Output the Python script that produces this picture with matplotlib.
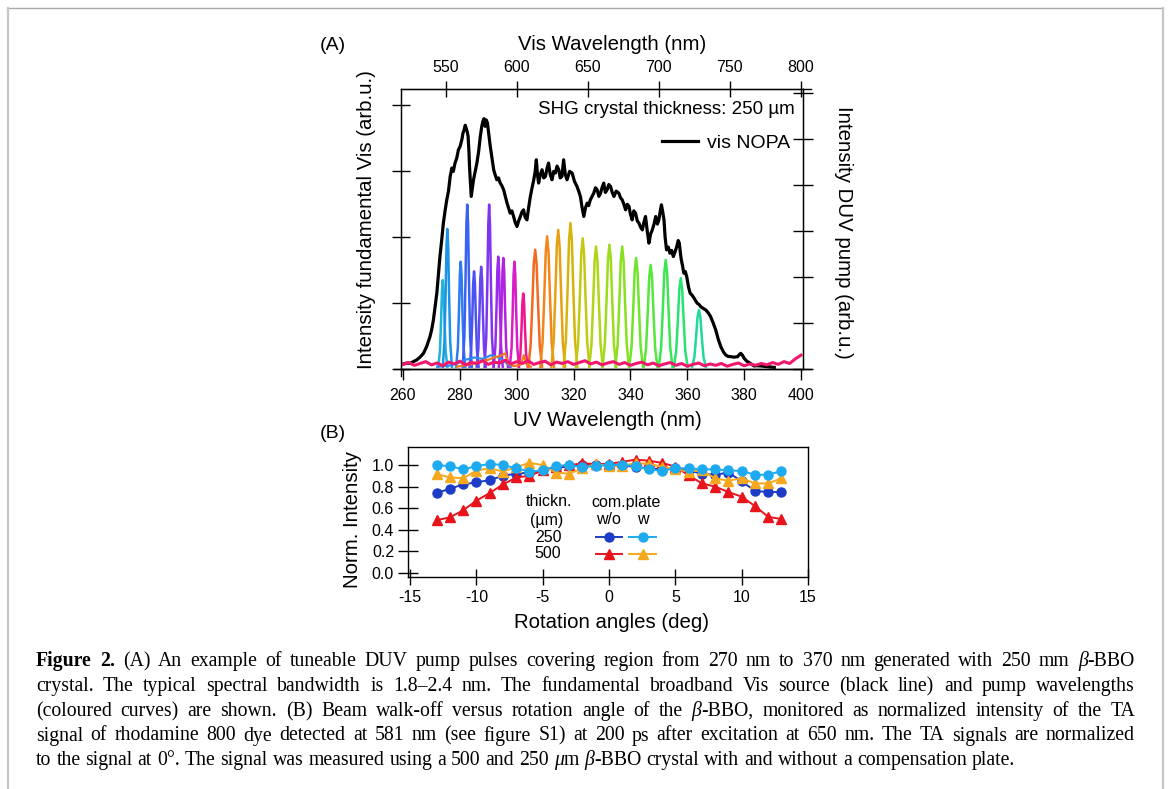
import numpy as np
import matplotlib
matplotlib.use('Agg')
import matplotlib.pyplot as plt
from matplotlib.lines import Line2D

W, H = 1170, 789
plt.rcParams['font.family'] = ['Liberation Sans', 'DejaVu Sans']

# ---------------- data: panel A ----------------
vis_uv = [260.1, 261.3, 262.5, 263.6, 264.8, 266.0, 267.2, 268.3, 269.5, 270.1,
          270.7, 271.3, 271.9, 272.5, 273.0, 273.6, 274.2, 274.8, 275.4, 276.0,
          276.6, 277.2, 277.7, 278.3, 278.9, 279.5, 280.1, 280.7, 281.1, 281.5,
          281.9, 282.2, 282.6, 282.9, 283.2, 283.4, 283.7, 284.0, 284.4, 284.8,
          285.4, 286.0, 286.6, 287.2, 287.7, 288.1, 288.5, 288.9, 289.3, 289.7,
          290.2, 290.7, 291.3, 291.9, 292.4, 293.0, 293.6, 294.2, 294.8, 295.4,
          296.0, 296.6, 297.1, 297.7, 298.3, 298.9, 299.5, 300.1, 300.7, 301.3,
          301.8, 302.4, 303.0, 303.6, 304.2, 304.8, 305.4, 306.0, 306.5, 306.9,
          307.3, 307.7, 308.3, 308.9, 309.5, 310.1, 310.7, 311.2, 311.8, 312.4,
          313.0, 313.6, 314.2, 314.8, 315.3, 315.9, 316.5, 317.1, 317.7, 318.6,
          319.5, 320.3, 321.2, 321.8, 322.4, 323.0, 323.6, 324.2, 324.8, 325.3,
          325.9, 326.5, 327.1, 327.7, 328.3, 328.9, 329.5, 330.0, 330.6, 331.2,
          331.8, 332.4, 333.0, 333.6, 334.2, 335.0, 335.9, 336.5, 337.1, 337.7,
          338.3, 338.9, 339.5, 340.0, 340.6, 341.2, 341.8, 342.4, 343.0, 343.6,
          344.2, 344.7, 345.3, 345.9, 346.5, 347.1, 347.7, 348.3, 348.9, 349.5,
          350.0, 350.5, 350.9, 351.3, 351.8, 352.2, 352.7, 353.3, 353.9, 354.5,
          355.1, 355.7, 356.3, 356.8, 357.2, 357.6, 357.9, 358.4, 358.8, 359.3,
          359.8, 360.4, 361.0, 361.7, 362.4, 363.0, 363.5, 364.1, 364.7, 365.6,
          366.5, 367.4, 368.2, 369.1, 370.0, 370.9, 371.8, 372.7, 373.5, 374.4,
          375.3, 376.5, 377.7, 378.3, 378.8, 379.4, 380.0, 380.9, 381.8, 382.7,
          383.5, 384.7, 385.9, 387.0, 388.2, 389.4, 390.6]
vis_int = [0.076, 0.090, 0.086, 0.110, 0.137, 0.180, 0.238, 0.339, 0.491, 0.600,
           0.745, 0.950, 1.150, 1.450, 1.707, 1.950, 2.214, 2.400, 2.568, 2.700,
           2.923, 3.050, 3.000, 3.126, 3.200, 3.328, 3.380, 3.480, 3.580, 3.632,
           3.700, 3.658, 3.600, 3.531, 3.300, 3.075, 2.850, 2.619, 2.750, 2.872,
           3.000, 3.126, 3.300, 3.531, 3.680, 3.759, 3.800, 3.683, 3.780, 3.734,
           3.550, 3.379, 3.200, 3.024, 2.950, 2.872, 2.900, 2.822, 2.780, 2.720,
           2.620, 2.518, 2.450, 2.366, 2.400, 2.315, 2.220, 2.163, 2.250, 2.315,
           2.380, 2.416, 2.300, 2.264, 2.450, 2.619, 2.750, 2.872, 3.000, 3.176,
           2.950, 2.822, 2.950, 3.024, 2.900, 2.923, 3.050, 3.126, 2.950, 2.872,
           3.000, 2.974, 3.080, 3.024, 2.900, 2.923, 3.176, 2.950, 2.872, 3.000,
           2.974, 2.850, 2.771, 2.700, 2.619, 2.450, 2.315, 2.450, 2.518, 2.480,
           2.568, 2.620, 2.670, 2.750, 2.720, 2.620, 2.670, 2.750, 2.822, 2.680,
           2.720, 2.800, 2.771, 2.680, 2.619, 2.700, 2.670, 2.600, 2.568, 2.500,
           2.416, 2.500, 2.467, 2.350, 2.264, 2.400, 2.366, 2.250, 2.214, 2.150,
           2.112, 2.220, 2.315, 2.100, 1.910, 2.050, 2.112, 2.200, 2.315, 2.200,
           2.264, 2.400, 2.492, 2.400, 2.264, 2.000, 1.809, 1.850, 1.758, 1.800,
           1.707, 1.780, 1.859, 1.950, 1.910, 1.750, 1.657, 1.550, 1.454, 1.480,
           1.403, 1.250, 1.150, 1.120, 1.074, 1.030, 0.998, 0.980, 0.947, 0.920,
           0.897, 0.850, 0.795, 0.700, 0.593, 0.450, 0.339, 0.260, 0.213, 0.190,
           0.187, 0.180, 0.187, 0.220, 0.238, 0.210, 0.162, 0.120, 0.096, 0.070,
           0.046, 0.050, 0.046, 0.040, 0.035, 0.030, 0.025]

# DUV pump pulses: (colour, wavelengths, intensities)
pump_pulses = [
    ('#22b4d6', [272.4, 273.0, 273.4, 273.7, 274.0, 274.3, 274.6, 275.0, 275.6], [0.05, 0.39, 1.06, 1.70, 1.93, 1.70, 1.06, 0.39, 0.05]),
    ('#1e94e8', [274.0, 274.6, 275.0, 275.3, 275.6, 275.9, 276.2, 276.6, 277.2], [0.05, 0.61, 1.67, 2.68, 3.04, 2.68, 1.67, 0.61, 0.05]),
    ('#2f7cf0', [278.7, 279.3, 279.7, 280.0, 280.3, 280.6, 280.9, 281.3, 281.9], [0.05, 0.47, 1.28, 2.05, 2.33, 2.05, 1.28, 0.47, 0.05]),
    ('#3a62f2', [281.0, 281.6, 282.0, 282.3, 282.6, 282.9, 283.2, 283.6, 284.2], [0.05, 0.71, 1.96, 3.14, 3.57, 3.14, 1.96, 0.71, 0.05]),
    ('#4a52f2', [283.4, 284.0, 284.4, 284.7, 285.0, 285.3, 285.6, 286.0, 286.6], [0.05, 0.42, 1.17, 1.87, 2.12, 1.87, 1.17, 0.42, 0.05]),
    ('#6446f2', [285.9, 286.5, 286.9, 287.2, 287.5, 287.8, 288.1, 288.5, 289.1], [0.05, 0.44, 1.22, 1.95, 2.22, 1.95, 1.22, 0.44, 0.05]),
    ('#8034f0', [288.7, 289.3, 289.7, 290.0, 290.3, 290.6, 290.9, 291.3, 291.9], [0.05, 0.71, 1.96, 3.14, 3.57, 3.14, 1.96, 0.71, 0.05]),
    ('#9a2aec', [291.9, 292.5, 292.9, 293.2, 293.5, 293.8, 294.1, 294.5, 295.1], [0.05, 0.49, 1.34, 2.15, 2.44, 2.15, 1.34, 0.49, 0.05]),
    ('#b322e0', [293.7, 294.3, 294.7, 295.0, 295.3, 295.6, 295.9, 296.3, 296.9], [0.05, 0.48, 1.33, 2.12, 2.41, 2.12, 1.33, 0.48, 0.05]),
    ('#d81ec6', [297.6, 298.2, 298.6, 298.9, 299.2, 299.5, 299.8, 300.2, 300.8], [0.05, 0.47, 1.28, 2.05, 2.33, 2.05, 1.28, 0.47, 0.05]),
    ('#f0168e', [300.7, 301.3, 301.7, 302.0, 302.3, 302.6, 302.9, 303.3, 303.9], [0.05, 0.33, 0.90, 1.44, 1.64, 1.44, 0.90, 0.33, 0.05]),
    ('#f26a1e', [304.1, 304.9, 305.5, 306.0, 306.5, 307.0, 307.5, 308.1, 308.9], [0.05, 0.52, 1.42, 2.28, 2.59, 2.28, 1.42, 0.52, 0.05]),
    ('#f2861a', [308.3, 309.1, 309.7, 310.2, 310.7, 311.2, 311.7, 312.3, 313.1], [0.05, 0.58, 1.58, 2.53, 2.88, 2.53, 1.58, 0.58, 0.05]),
    ('#e6a012', [312.2, 313.0, 313.6, 314.1, 314.6, 315.1, 315.6, 316.2, 317.0], [0.05, 0.60, 1.66, 2.66, 3.02, 2.66, 1.66, 0.60, 0.05]),
    ('#d6b40e', [316.5, 317.3, 317.9, 318.4, 318.9, 319.4, 319.9, 320.5, 321.3], [0.05, 0.63, 1.74, 2.79, 3.17, 2.79, 1.74, 0.63, 0.05]),
    ('#c4c814', [320.8, 321.6, 322.2, 322.7, 323.2, 323.7, 324.2, 324.8, 325.6], [0.05, 0.57, 1.56, 2.50, 2.84, 2.50, 1.56, 0.57, 0.05]),
    ('#b0d416', [325.5, 326.3, 326.9, 327.4, 327.9, 328.4, 328.9, 329.5, 330.3], [0.05, 0.53, 1.46, 2.34, 2.66, 2.34, 1.46, 0.53, 0.05]),
    ('#9cdc1a', [330.2, 331.0, 331.6, 332.1, 332.6, 333.1, 333.6, 334.2, 335.0], [0.05, 0.54, 1.49, 2.38, 2.70, 2.38, 1.49, 0.54, 0.05]),
    ('#88e020', [334.7, 335.5, 336.1, 336.6, 337.1, 337.6, 338.1, 338.7, 339.5], [0.05, 0.53, 1.46, 2.34, 2.66, 2.34, 1.46, 0.53, 0.05]),
    ('#70e42a', [339.6, 340.4, 341.0, 341.5, 342.0, 342.5, 343.0, 343.6, 344.4], [0.05, 0.48, 1.33, 2.12, 2.41, 2.12, 1.33, 0.48, 0.05]),
    ('#56e63c', [344.7, 345.5, 346.1, 346.6, 347.1, 347.6, 348.1, 348.7, 349.5], [0.05, 0.45, 1.24, 1.99, 2.26, 1.99, 1.24, 0.45, 0.05]),
    ('#3ce652', [350.0, 350.8, 351.4, 351.9, 352.4, 352.9, 353.4, 354.0, 354.8], [0.05, 0.47, 1.30, 2.09, 2.37, 2.09, 1.30, 0.47, 0.05]),
    ('#28e272', [355.3, 356.1, 356.7, 357.2, 357.7, 358.2, 358.7, 359.3, 360.1], [0.05, 0.39, 1.08, 1.73, 1.97, 1.73, 1.08, 0.39, 0.05]),
    ('#22d89c', [361.7, 362.5, 363.1, 363.6, 364.1, 364.6, 365.1, 365.7, 366.5], [0.05, 0.26, 0.70, 1.13, 1.28, 1.13, 0.70, 0.26, 0.05]),
]

# low-level residual traces near the baseline
blue_tail_uv = [272.0, 276.0, 279.0, 282.0, 285.0, 288.0, 291.0, 294.0, 296.0, 298.0]
blue_tail_int = [0.05, 0.07, 0.12, 0.20, 0.25, 0.22, 0.30, 0.24, 0.15, 0.05]
orange_tail_uv = [279.0, 282.0, 285.0, 288.0, 290.0, 292.0, 294.0, 296.0, 297.0, 299.0, 301.5, 302.5, 303.5, 305.0]
orange_tail_int = [0.05, 0.08, 0.12, 0.18, 0.20, 0.25, 0.28, 0.34, 0.12, 0.06, 0.10, 0.30, 0.10, 0.05]

pink_base_uv = np.arange(260, 401, 2)
pink_base_int = [0.10, 0.14, 0.08, 0.12, 0.16, 0.09, 0.13, 0.07, 0.15, 0.11,
                 0.17, 0.09, 0.14, 0.12, 0.18, 0.10, 0.15, 0.13, 0.19, 0.11,
                 0.16, 0.12, 0.18, 0.10, 0.14, 0.17, 0.09, 0.15, 0.12, 0.16,
                 0.10, 0.14, 0.18, 0.11, 0.15, 0.09, 0.13, 0.16, 0.10, 0.14,
                 0.08, 0.12, 0.15, 0.09, 0.13, 0.07, 0.11, 0.14, 0.08, 0.12,
                 0.06, 0.10, 0.13, 0.07, 0.11, 0.08, 0.12, 0.06, 0.10, 0.13,
                 0.07, 0.11, 0.08, 0.12, 0.09, 0.14, 0.10, 0.16, 0.12, 0.22, 0.30]

uv_ticks = [260, 280, 300, 320, 340, 360, 380, 400]
vis_ticks = [550, 600, 650, 700, 750, 800]

# ---------------- data: panel B ----------------
angles = list(range(-13, 14))
i250_wo = [0.74, 0.78, 0.82, 0.84, 0.86, 0.90, 0.92, 0.93, 0.95, 0.97, 0.99, 1.00, 1.00, 1.00,
           1.00, 0.98, 0.97, 0.96, 0.97, 0.95, 0.92, 0.91, 0.93, 0.85, 0.76, 0.75, 0.75]
i250_w = [1.00, 0.99, 0.96, 0.99, 1.01, 1.00, 0.97, 0.94, 0.95, 0.99, 1.00, 0.98, 0.99, 1.00,
          1.00, 0.99, 0.96, 0.945, 0.97, 0.97, 0.96, 0.96, 0.95, 0.945, 0.91, 0.91, 0.945]
i500_wo = [0.49, 0.515, 0.58, 0.67, 0.74, 0.82, 0.885, 0.90, 0.95, 0.985, 1.00, 1.015, 1.01, 1.01,
           1.03, 1.05, 1.04, 1.02, 0.985, 0.905, 0.83, 0.80, 0.75, 0.707, 0.62, 0.52, 0.50]
i500_w = [0.917, 0.886, 0.877, 0.948, 0.97, 0.94, 0.98, 1.02, 1.00, 0.93, 0.92, 0.97, 1.01, 0.99,
          0.99, 1.02, 1.01, 0.985, 0.96, 0.94, 0.95, 0.877, 0.855, 0.877, 0.83, 0.83, 0.877]
angle_ticks = [-15, -10, -5, 0, 5, 10, 15]
norm_ticks = [0.0, 0.2, 0.4, 0.6, 0.8, 1.0]

caption_lines = [
    "Figure 2. (A) An example of tuneable DUV pump pulses covering region from 270 nm to 370 nm generated with 250 mm β-BBO",
    "crystal. The typical spectral bandwidth is 1.8–2.4 nm. The fundamental broadband Vis source (black line) and pump wavelengths",
    "(coloured curves) are shown. (B) Beam walk-off versus rotation angle of the β-BBO, monitored as normalized intensity of the TA",
    "signal of rhodamine 800 dye detected at 581 nm (see figure S1) at 200 ps after excitation at 650 nm. The TA signals are normalized",
    "to the signal at 0°. The signal was measured using a 500 and 250 μm β-BBO crystal with and without a compensation plate.",
]

# ---------------- figure ----------------
fig = plt.figure(figsize=(W / 100, H / 100), dpi=100)


def fx(x):
    return x / W


def fy(y):
    return 1 - y / H


def rect(l, t, r, b):
    return [fx(l), fy(b), (r - l) / W, (b - t) / H]


TF = fig.transFigure
LAB = 14.7
TCK = 11.5

# frame of the figure box
fig.add_artist(Line2D([fx(7), fx(1163)], [fy(8), fy(8)], transform=TF, color='#a8a8a8', lw=1.0))
fig.add_artist(Line2D([fx(7.5), fx(7.5)], [fy(8), fy(789)], transform=TF, color='#c6c6c6', lw=1.6))
fig.add_artist(Line2D([fx(1162.5), fx(1162.5)], [fy(8), fy(789)], transform=TF, color='#c6c6c6', lw=1.6))

# ----- panel A -----
ax1 = fig.add_axes(rect(401, 89, 803, 369))
ax1.set_xlim(259.3, 400.7)
ax1.set_ylim(0, 4.25)
ax1.plot(vis_uv, vis_int, color='black', lw=2.3, label='vis NOPA', zorder=3)
ax1.set_xticks(uv_ticks)
ax1.set_yticks(range(5))
ax1.tick_params(axis='x', direction='out', length=8, width=1, labelsize=TCK, pad=6, top=False)
ax1.tick_params(axis='y', direction='inout', length=13, width=1, labelleft=False)
for s in ax1.spines.values():
    s.set_linewidth(1.0)
ax1.set_xlabel('UV Wavelength (nm)', fontsize=LAB)
ax1.xaxis.set_label_coords(fx(607), fy(420), transform=TF)
ax1.xaxis.label.set_va('center')
ax1.set_ylabel('Intensity fundamental Vis (arb.u.)', fontsize=LAB)
ax1.yaxis.set_label_coords(fx(366), fy(220), transform=TF)
ax1.yaxis.label.set_va('center')
# Igor-style axis standoff: bottom axis line runs a bit past the frame
fig.add_artist(Line2D([fx(394), fx(811)], [fy(369), fy(369)], transform=TF, color='black', lw=1.0))
fig.add_artist(Line2D([fx(401), fx(401)], [fy(369), fy(376)], transform=TF, color='black', lw=1.0))
fig.add_artist(Line2D([fx(803), fx(811)], [fy(89), fy(89)], transform=TF, color='black', lw=1.0))

ax2 = ax1.twinx()
ax2.set_ylim(0, 6.08)
for col, xs, ys in pump_pulses:
    ax2.plot(xs, ys, color=col, lw=1.8)
ax2.plot(blue_tail_uv, blue_tail_int, color='#2f8cf0', lw=1.6)
ax2.plot(orange_tail_uv, orange_tail_int, color='#f07a20', lw=1.6)
ax2.plot(pink_base_uv, pink_base_int, color='#f0186e', lw=2.2)
ax2.set_yticks(range(7))
ax2.tick_params(axis='y', direction='inout', length=14, width=1, labelright=False)
ax2.set_ylabel('Intensity DUV pump (arb.u.)', fontsize=LAB, rotation=-90)
ax2.yaxis.set_label_coords(fx(843), fy(232), transform=TF)
ax2.yaxis.label.set_va('center')
ax2.yaxis.label.set_ha('center')

secax = ax1.secondary_xaxis('top', functions=(lambda x: 2 * x, lambda x: x / 2))
secax.set_xticks(vis_ticks)
secax.tick_params(axis='x', direction='inout', length=12, width=1, labelsize=TCK, pad=4)
secax.set_xlabel('Vis Wavelength (nm)', fontsize=LAB)
secax.xaxis.set_label_coords(fx(612), fy(45), transform=TF)
secax.xaxis.label.set_va('center')

fig.text(fx(795), fy(110), 'SHG crystal thickness: 250 µm', fontsize=13.5, ha='right', va='center')
ax1.legend(loc='center right', bbox_to_anchor=(fx(790), fy(143)), bbox_transform=TF,
           frameon=False, fontsize=14, handlelength=1.85, handletextpad=0.45,
           borderpad=0, borderaxespad=0)
fig.text(fx(333), fy(45), '(A)', fontsize=14, ha='center', va='center')

# ----- panel B -----
ax3 = fig.add_axes(rect(408, 447, 808, 577))
ax3.set_xlim(-15.15, 15.0)
ax3.set_ylim(-0.037, 1.167)
c_dblue, c_lblue, c_red, c_orange = '#1c3cc8', '#1eaaf0', '#e8141c', '#f5a81e'
ax3.plot(angles, i250_wo, color=c_dblue, marker='o', ms=6.5, lw=1.4)
ax3.plot(angles, i500_wo, color=c_red, marker='^', ms=7, lw=1.4)
ax3.plot(angles, i500_w, color=c_orange, marker='^', ms=7, lw=1.4)
ax3.plot(angles, i250_w, color=c_lblue, marker='o', ms=6.5, lw=1.4)
ax3.set_xticks(angle_ticks)
ax3.set_xticklabels([str(v) for v in angle_ticks])
ax3.set_yticks(norm_ticks)
ax3.set_yticklabels(['%.1f' % v for v in norm_ticks])
ax3.tick_params(axis='x', direction='inout', length=12, width=1, labelsize=TCK, pad=3)
ax3.tick_params(axis='y', direction='inout', length=14, width=1, labelsize=TCK, pad=3)
for s in ax3.spines.values():
    s.set_linewidth(1.0)
ax3.set_xlabel('Rotation angles (deg)', fontsize=LAB)
ax3.xaxis.set_label_coords(fx(611), fy(622), transform=TF)
ax3.xaxis.label.set_va('center')
ax3.set_ylabel('Norm. Intensity', fontsize=LAB)
ax3.yaxis.set_label_coords(fx(352), fy(520), transform=TF)
ax3.yaxis.label.set_va('center')
fig.text(fx(333), fy(434), '(B)', fontsize=14, ha='center', va='center')

# legend table of panel B
LEG = 11.5
fig.text(fx(549), fy(502), 'thickn.', fontsize=LEG, ha='center', va='center')
fig.text(fx(547), fy(520), '(µm)', fontsize=LEG, ha='center', va='center')
fig.text(fx(548), fy(537), '250', fontsize=LEG, ha='center', va='center')
fig.text(fx(548), fy(554), '500', fontsize=LEG, ha='center', va='center')
fig.text(fx(626), fy(502), 'com.plate', fontsize=LEG, ha='center', va='center')
fig.text(fx(608), fy(520), 'w/o', fontsize=LEG, ha='center', va='center')
fig.text(fx(643), fy(520), 'w', fontsize=LEG, ha='center', va='center')
for (xc, x0, x1), yrow, col, mk in [((609, 596, 622), 537, c_dblue, 'o'), ((643, 629, 656), 537, c_lblue, 'o'),
                                    ((609, 596, 622), 554, c_red, '^'), ((643, 629, 656), 554, c_orange, '^')]:
    fig.add_artist(Line2D([fx(x0), fx(x1)], [fy(yrow), fy(yrow)], transform=TF, color=col, lw=1.4))
    fig.add_artist(Line2D([fx(xc)], [fy(yrow)], transform=TF, color=col, marker=mk,
                          ms=6.5 if mk == 'o' else 7, lw=0))

# ----- caption (justified) -----
renderer = fig.canvas.get_renderer()
CAP = 14.2
base_props = dict(family=['Liberation Serif', 'DejaVu Serif'], fontsize=CAP)


def segments(word, bold):
    segs = []
    cur = ''
    for ch in word:
        if ch in 'βμ':
            if cur:
                segs.append((cur, False))
                cur = ''
            segs.append((ch, True))
        else:
            cur += ch
    if cur:
        segs.append((cur, False))
    out = []
    for s, it in segs:
        p = dict(base_props)
        if it:
            p['style'] = 'italic'
        if bold:
            p['weight'] = 'bold'
        out.append((s, p))
    return out


def width_of(s, p):
    t = fig.text(0, 0, s, **p)
    w = t.get_window_extent(renderer).width
    t.remove()
    return w


space_w = width_of('a a', base_props) - width_of('aa', base_props)
left_px, right_px = 36, 1135
baselines = [666, 691, 716, 740.5, 765]
for li, line in enumerate(caption_lines):
    words = line.split(' ')
    wsegs = []
    for wi, wd in enumerate(words):
        bold = (li == 0 and wi < 2)
        wsegs.append(segments(wd, bold))
    widths = [sum(width_of(s, p) for s, p in ws) for ws in wsegs]
    if li < len(caption_lines) - 1:
        gap = (right_px - left_px - sum(widths)) / (len(words) - 1)
    else:
        gap = space_w
    x = left_px
    for ws, wtot in zip(wsegs, widths):
        xx = x
        for s, p in ws:
            fig.text(fx(xx), fy(baselines[li]), s, ha='left', va='baseline', **p)
            xx += width_of(s, p)
        x += wtot + gap

fig.savefig('out.png', dpi=100)
